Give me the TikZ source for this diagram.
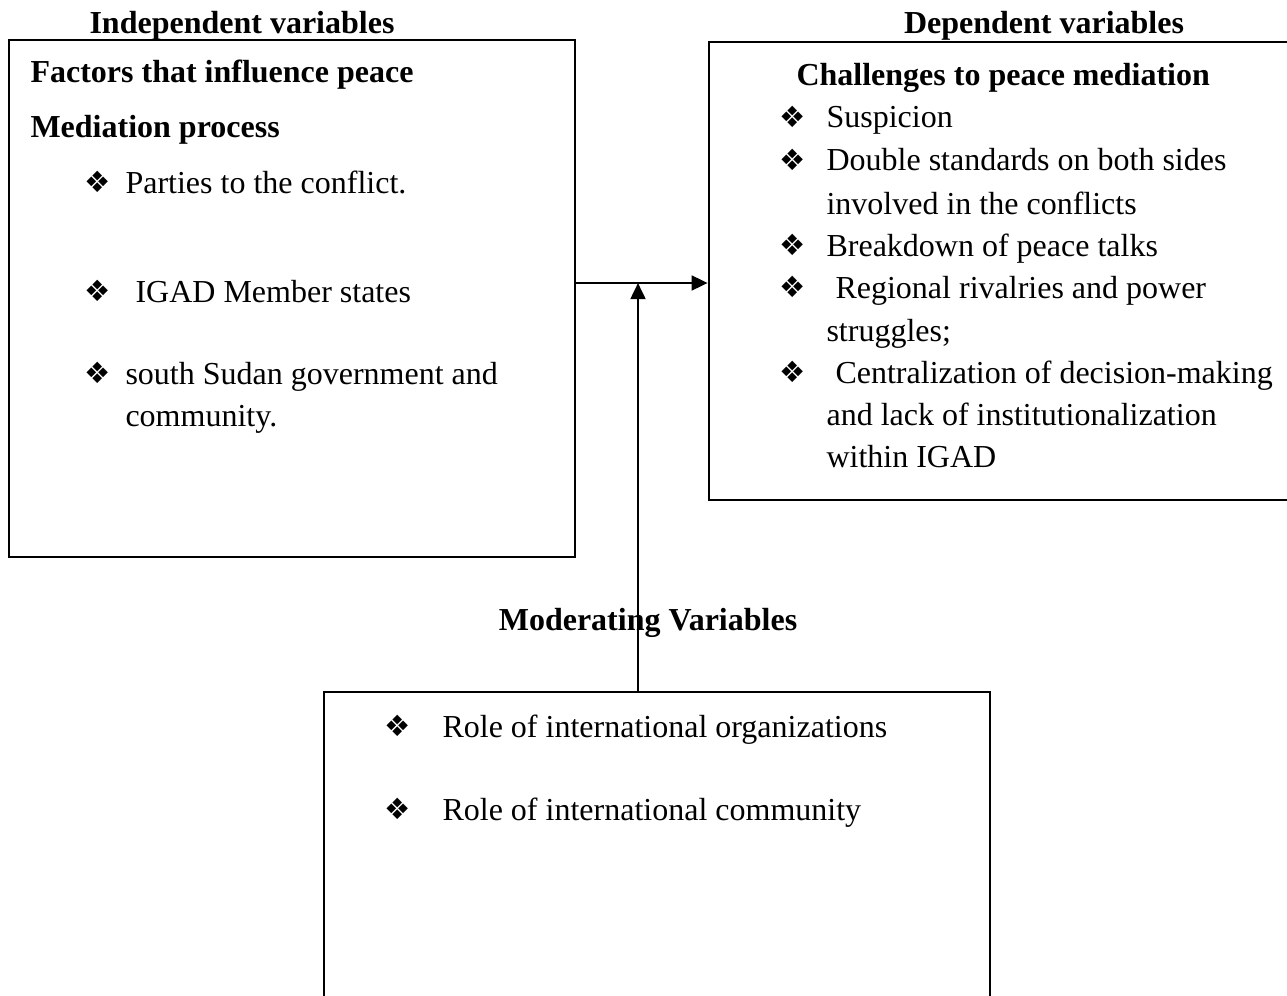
\documentclass[tikz,border=0pt]{standalone}
\usepackage{fontspec}
\setmainfont{Liberation Serif}
\newfontfamily\dingfont{DejaVu Sans}
\usepackage{tikz}
\usetikzlibrary{arrows.meta}
\usetikzlibrary{fit}
\newcommand{\dia}{{\dingfont\fontsize{11}{11}\selectfont\char"2756}}

\begin{document}
\begin{tikzpicture}[x=0.375pt,y=-0.375pt,
  box/.style={draw,line width=1pt,inner sep=0pt},
  txt/.style={anchor=base west,inner sep=0pt,font=\fontsize{12}{14}\selectfont},
  head/.style={txt,font=\fontsize{12}{14}\selectfont\bfseries},
  tip/.style={-{Triangle[length=6pt,width=5.5pt]},line width=1pt}]
\useasboundingbox (0,0) rectangle (1287,995);
\clip (0,0) rectangle (1287,995);
% boxes
\node[box,fit={(9,40)(575,557)}] (indep) {};
\node[box,fit={(709,42)(1300,500)}] (dep) {};
\node[box,fit={(324,692)(990,1010)}] (moder) {};
% titles
\node[head,anchor=base] (indeptitle) at (242,34) {Independent variables};
\node[head,anchor=base] (deptitle) at (1044,34) {Dependent variables};
\node[head,anchor=base] (modertitle) at (648,630) {Moderating Variables};
% independent box
\node[head] (fac) at (30,82) {Factors that influence peace};
\node[head] (med) at (30,138) {Mediation process};
\node[txt] (b1) at (84,192) {\dia};
\node[txt] (i1) at (125,193) {Parties to the conflict.};
\node[txt] (b2) at (84,301) {\dia};
\node[txt] (i2) at (135,302) {IGAD Member states};
\node[txt] (b3) at (84,383) {\dia};
\node[txt] (i3) at (125,384) {south Sudan government and};
\node[txt] (i3b) at (125,426) {community.};
% dependent box
\node[head] (chal) at (796,86) {Challenges to peace mediation};
\node[txt] (b4) at (779,127) {\dia};
\node[txt] (d1) at (826,128) {Suspicion};
\node[txt] (b5) at (779,170) {\dia};
\node[txt] (d2) at (826,171) {Double standards on both sides};
\node[txt] (d2b) at (826,214) {involved in the conflicts};
\node[txt] (b6) at (779,255) {\dia};
\node[txt] (d3) at (826,256) {Breakdown of peace talks};
\node[txt] (b7) at (779,297) {\dia};
\node[txt] (d4) at (835,298) {Regional rivalries and power};
\node[txt] (d4b) at (826,341) {struggles;};
\node[txt] (b8) at (779,382) {\dia};
\node[txt] (d5) at (835,383) {Centralization of decision-making};
\node[txt] (d5b) at (826,425) {and lack of institutionalization};
\node[txt] (d5c) at (826,467) {within IGAD};
% moderating box
\node[txt] (b9) at (384,736) {\dia};
\node[txt] (m1) at (442,737) {Role of international organizations};
\node[txt] (b10) at (384,819) {\dia};
\node[txt] (m2) at (442,820) {Role of international community};
% arrows
\coordinate (join) at (638,283);
\draw[tip] (indep.east |- join) -- (dep.west |- join);
\draw[tip] (moder.north -| join) -- (join);
\end{tikzpicture}
\end{document}
